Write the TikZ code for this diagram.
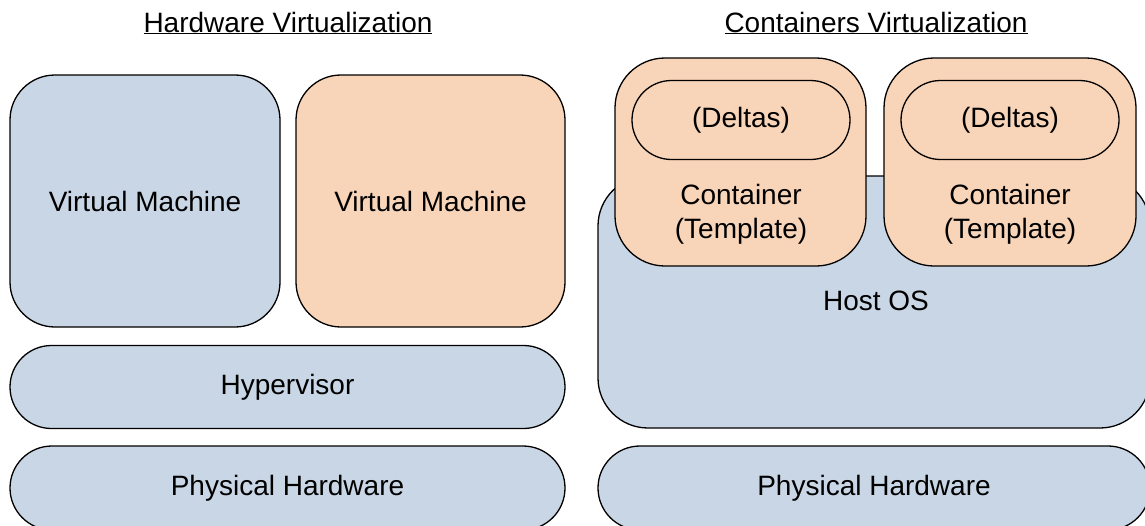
\documentclass[tikz,border=0pt]{standalone}
\usepackage{fontspec}
\setmainfont{Liberation Sans}
\definecolor{layerblue}{RGB}{201,214,229}
\definecolor{guestorange}{RGB}{248,212,184}
\tikzset{
  layer/.style={draw=black, line width=1.3pt, fill=layerblue, inner sep=0pt,
    font=\fontsize{28}{34}\selectfont, align=center},
  guest/.style={layer, fill=guestorange},
  txt/.style={font=\fontsize{28}{34}\selectfont, align=center, inner sep=0pt},
  heading/.style={font=\fontsize{28}{34}\selectfont, inner sep=0pt},
}
\begin{document}
\begin{tikzpicture}[x=1pt, y=-1pt]
\useasboundingbox (0,0) rectangle (1145,525);
\clip (0,0) rectangle (1145,525);
\fill[white] (0,0) rectangle (1145,525);

% Hardware virtualization stack
\node[heading] (hwtitle) at (288,23) {\underline{Hardware Virtualization}};
\node[layer, minimum width=270, minimum height=252, rounded corners=45] (vm1) at (145,201) {Virtual Machine};
\node[guest, minimum width=269, minimum height=252, rounded corners=45] (vm2) at (430.5,201) {Virtual Machine};
\node[layer, minimum width=555, minimum height=83, rounded corners=41.5] (hyp) at (287.5,387) {Hypervisor};
\node[layer, minimum width=555, minimum height=84, rounded corners=42] (hwleft) at (287.5,488) {Physical Hardware};

% Container virtualization stack
\node[heading] (cttitle) at (876,23) {\underline{Containers Virtualization}};
\node[layer, minimum width=552, minimum height=252, rounded corners=50] (host) at (874,302) {};
\node[txt] (hostlabel) at (876,301) {Host OS};
\node[layer, minimum width=552, minimum height=84, rounded corners=42] (hwright) at (874,488) {Physical Hardware};

\node[guest, minimum width=251, minimum height=208, rounded corners=50] (ct1) at (740.5,162) {};
\node[guest, minimum width=218, minimum height=79, rounded corners=39.5] (d1) at (741,120) {(Deltas)};
\node[txt] (ct1label) at (741,214.5) {Container\\(Template)};

\node[guest, minimum width=252, minimum height=208, rounded corners=50] (ct2) at (1010,162) {};
\node[guest, minimum width=218, minimum height=79, rounded corners=39.5] (d2) at (1010,120) {(Deltas)};
\node[txt] (ct2label) at (1010,214.5) {Container\\(Template)};
\end{tikzpicture}
\end{document}
